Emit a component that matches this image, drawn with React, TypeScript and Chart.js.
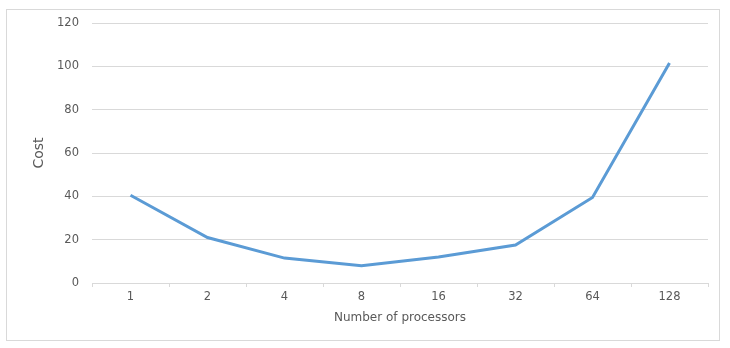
import React, { useEffect, useRef } from "react";
import { Chart, registerables } from "chart.js";

Chart.register(...registerables);

const categories = ["1", "2", "4", "8", "16", "32", "64", "128"];
const costValues = [40.5, 21, 11.5, 8, 12, 17.5, 39.5, 101.5];
const yTicks = [0, 20, 40, 60, 80, 100, 120];

const TEXT = "#595959";
const GRID = "#d9d9d9";
const FONT = "'DejaVu Sans', sans-serif";

export default function App() {
  const ref = useRef<HTMLCanvasElement | null>(null);

  useEffect(() => {
    if (!ref.current) return;
    const chart = new Chart(ref.current, {
      type: "line",
      data: {
        labels: categories,
        datasets: [
          {
            label: "Cost",
            data: costValues,
            borderColor: "#5B9BD5",
            backgroundColor: "#5B9BD5",
            borderWidth: 3,
            pointRadius: 0,
            tension: 0,
            fill: false,
          },
        ],
      },
      options: {
        animation: false,
        responsive: false,
        maintainAspectRatio: false,
        layout: { padding: { left: 0, top: 23, right: 22, bottom: 0 } },
        plugins: {
          legend: { display: false },
          tooltip: { enabled: false },
        },
        scales: {
          x: {
            type: "category",
            offset: true,
            grid: {
              offset: true,
              drawOnChartArea: false,
              drawTicks: true,
              tickLength: 4,
              color: GRID,
            },
            border: { display: true, color: GRID, width: 1 },
            ticks: {
              color: TEXT,
              font: { family: FONT, size: 11.5 },
              padding: 3,
              maxRotation: 0,
            },
            title: {
              display: true,
              text: "Number of processors",
              color: TEXT,
              font: { family: FONT, size: 12 },
              padding: { top: 0, bottom: 23 },
            },
            afterFit: (scale: any) => {
              scale.height = 65;
            },
          },
          y: {
            min: 0,
            max: 120,
            afterBuildTicks: (scale: any) => {
              scale.ticks = yTicks.map((v) => ({ value: v }));
            },
            grid: { color: GRID, drawTicks: false, lineWidth: 1 },
            border: { display: false },
            ticks: {
              color: TEXT,
              font: { family: FONT, size: 11.5 },
              padding: 13,
            },
            title: {
              display: true,
              text: "Cost",
              color: TEXT,
              font: { family: FONT, size: 14 },
              padding: { top: 31, bottom: 0 },
            },
            afterFit: (scale: any) => {
              scale.width = 92;
            },
          },
        },
      },
    });
    return () => chart.destroy();
  }, []);

  return (
    <div
      style={{
        position: "fixed",
        left: 0,
        top: 0,
        width: 730,
        height: 348,
        background: "#ffffff",
      }}
    >
      <div
        style={{
          position: "absolute",
          left: 6,
          top: 9,
          width: 714,
          height: 332,
          border: "1px solid #d9d9d9",
          boxSizing: "border-box",
        }}
      />
      <canvas
        ref={ref}
        width={730}
        height={348}
        style={{ position: "absolute", left: 0, top: 0, width: 730, height: 348 }}
      />
    </div>
  );
}
